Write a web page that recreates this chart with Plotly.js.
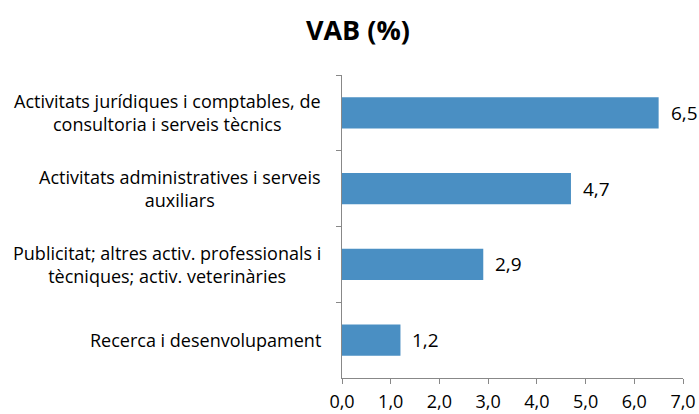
<!DOCTYPE html>
<html>
<head>
<meta charset="utf-8">
<script src="https://cdn.plot.ly/plotly-3.0.1.min.js"></script>
<style>html,body{margin:0;padding:0;background:#fff;}#chart{width:699px;height:414px;}</style>
</head>
<body>
<div id="chart"></div>
<script>
const categories = [
  "Activitats jurídiques i comptables, de consultoria i serveis tècnics",
  "Activitats administratives i serveis auxiliars",
  "Publicitat; altres activ. professionals i tècniques; activ. veterinàries",
  "Recerca i desenvolupament"
];
const labelLines = [
  ["Activitats jurídiques i comptables, de", "consultoria i serveis tècnics"],
  ["Activitats administratives i serveis", "auxiliars"],
  ["Publicitat; altres activ. professionals i", "tècniques; activ. veterinàries"],
  ["Recerca i desenvolupament"]
];
const values = [6.5, 4.7, 2.9, 1.2];
const valueLabels = ["6,5", "4,7", "2,9", "1,2"];
const xTicks = [0, 1, 2, 3, 4, 5, 6, 7];
const xTickLabels = ["0,0", "1,0", "2,0", "3,0", "4,0", "5,0", "6,0", "7,0"];

const FONT = "Open Sans, Noto Sans, sans-serif";
const annotations = [];
labelLines.forEach((lines, i) => {
  annotations.push({
    xref: "paper", yref: "y", x: 0, y: categories[i],
    xanchor: "right", yanchor: "middle", align: "center",
    xshift: -19,
    text: lines.join("<br>"), showarrow: false,
    font: {family: FONT, size: 18, color: "#000"}
  });
});
values.forEach((v, i) => {
  annotations.push({
    xref: "x", yref: "y", x: v, y: categories[i],
    xanchor: "left", yanchor: "middle", xshift: 10,
    text: valueLabels[i], showarrow: false,
    font: {family: FONT, size: 19, color: "#000"}
  });
});

const trace = {
  type: "bar", orientation: "h",
  x: values, y: categories,
  marker: {color: "#4a8fc3", line: {width: 0}},
  width: 0.41,
  hoverinfo: "none"
};

const layout = {
  width: 699, height: 414,
  margin: {l: 342, r: 16, t: 75, b: 36, pad: 0},
  paper_bgcolor: "#fff", plot_bgcolor: "#fff",
  showlegend: false,
  title: {text: "<b>VAB (%)</b>", x: 0.512, xref: "container", xanchor: "center", y: 0.927, yref: "container", yanchor: "middle",
    font: {family: FONT, size: 27, color: "#000"}},
  xaxis: {
    range: [0, 7], tickvals: xTicks, ticktext: xTickLabels,
    showline: true, linecolor: "#888", linewidth: 1,
    ticks: "outside", ticklen: 5, tickcolor: "#888", tickwidth: 1,
    showgrid: false, zeroline: false,
    tickfont: {family: FONT, size: 18, color: "#000"},
    ticklabelstandoff: 2, fixedrange: true
  },
  yaxis: {
    type: "category", categoryarray: categories, categoryorder: "array",
    range: [3.5, -0.5],
    showline: true, linecolor: "#888", linewidth: 1,
    ticks: "outside", ticklen: 5, tickcolor: "#888", tickwidth: 1,
    tickson: "boundaries", showticklabels: false,
    showgrid: false, zeroline: false, fixedrange: true
  },
  annotations: annotations
};

Plotly.newPlot("chart", [trace], layout, {displayModeBar: false, staticPlot: true});
</script>
</body>
</html>
